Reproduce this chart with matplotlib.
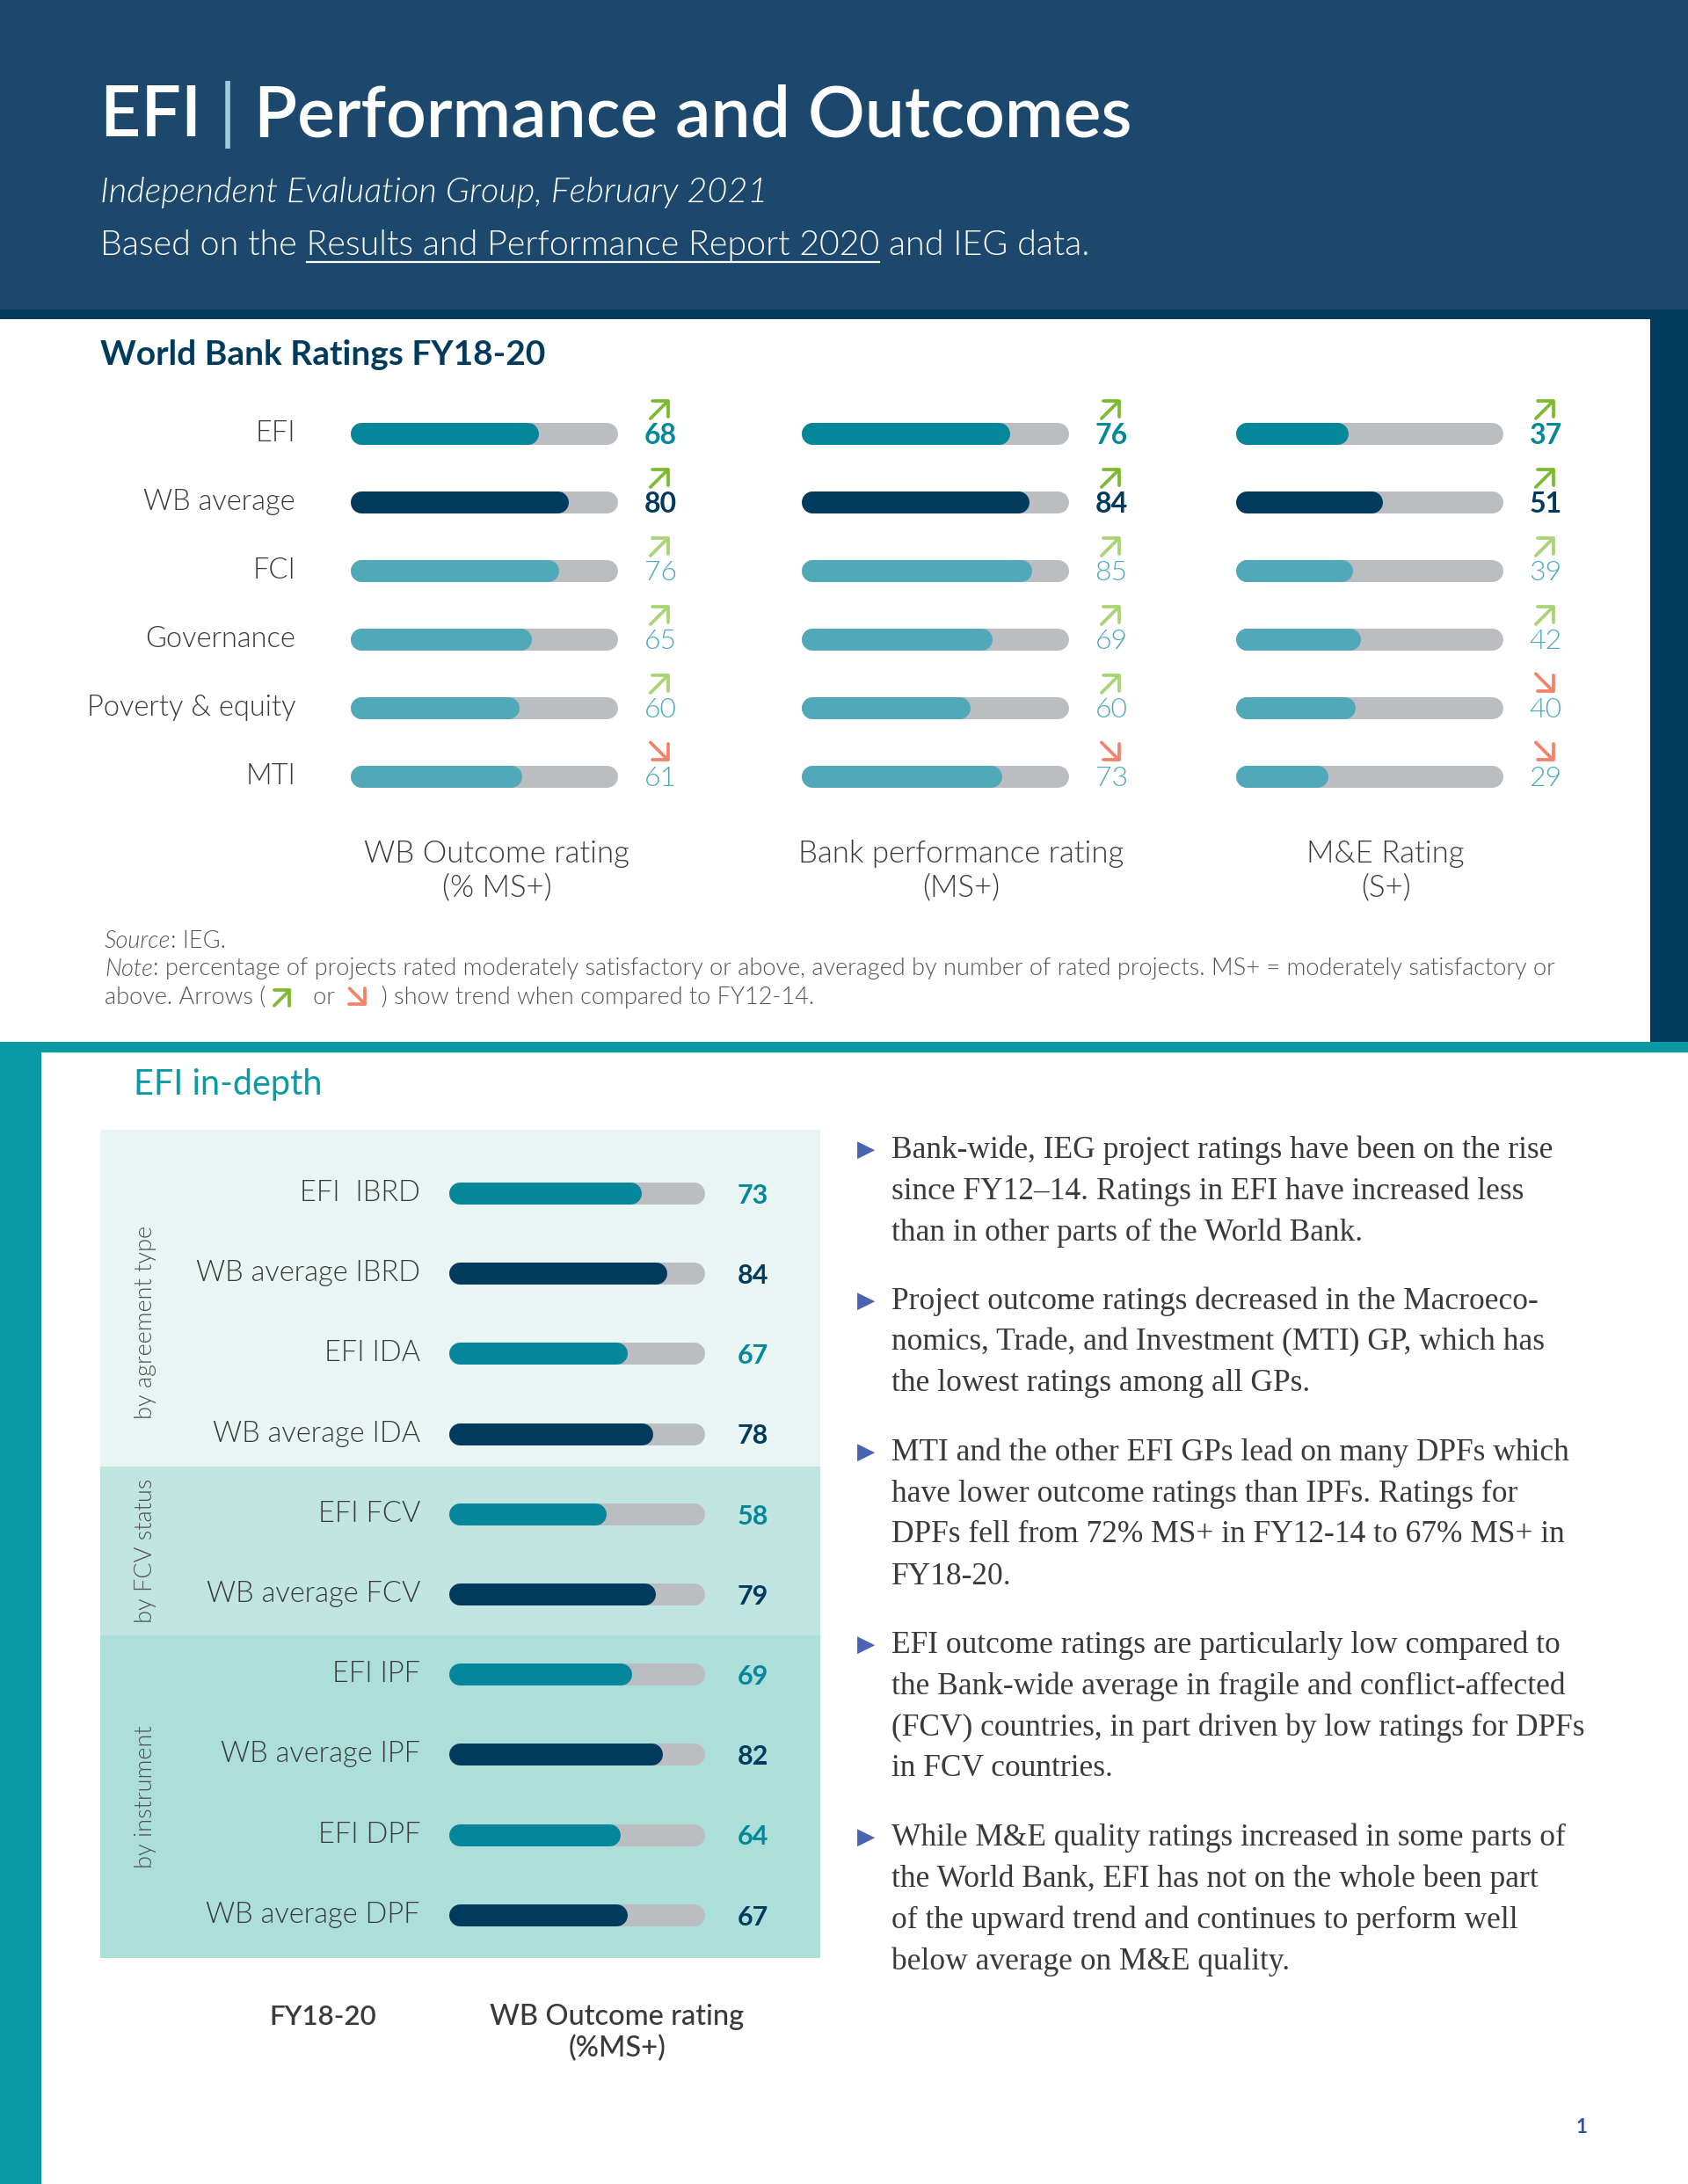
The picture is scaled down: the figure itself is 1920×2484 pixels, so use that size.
import matplotlib.pyplot as plt
from matplotlib.patches import Rectangle
from matplotlib.transforms import offset_copy

# data
top_rows = ["EFI", "WB average", "FCI", "Governance", "Poverty & equity", "MTI"]
outcome = [68, 80, 76, 65, 60, 61]
bank_perf = [76, 84, 85, 69, 60, 73]
me_rating = [37, 51, 39, 42, 40, 29]
outcome_trend = ["up", "up", "up", "up", "up", "down"]
bank_trend = ["up", "up", "up", "up", "up", "down"]
me_trend = ["up", "up", "up", "up", "down", "down"]
panel_titles = ["WB Outcome rating\n(% MS+)", "Bank performance rating\n(MS+)", "M&E Rating\n(S+)"]

depth_rows = ["EFI  IBRD", "WB average IBRD", "EFI IDA", "WB average IDA", "EFI FCV",
              "WB average FCV", "EFI IPF", "WB average IPF", "EFI DPF", "WB average DPF"]
depth_values = [73, 84, 67, 78, 58, 79, 69, 82, 64, 67]
groups = ["by agreement type", "by FCV status", "by instrument"]
group_sizes = [4, 2, 4]

bullets = [
    ["Bank-wide, IEG project ratings have been on the rise",
     "since FY12\u201314. Ratings in EFI have increased less",
     "than in other parts of the World Bank."],
    ["Project outcome ratings decreased in the Macroeco-",
     "nomics, Trade, and Investment (MTI) GP, which has",
     "the lowest ratings among all GPs."],
    ["MTI and the other EFI GPs lead on many DPFs which",
     "have lower outcome ratings than IPFs. Ratings for",
     "DPFs fell from 72% MS+ in FY12-14 to 67% MS+ in",
     "FY18-20."],
    ["EFI outcome ratings are particularly low compared to",
     "the Bank-wide average in fragile and conflict-affected",
     "(FCV) countries, in part driven by low ratings for DPFs",
     "in FCV countries."],
    ["While M&E quality ratings increased in some parts of",
     "the World Bank, EFI has not on the whole been part",
     "of the upward trend and continues to perform well",
     "below average on M&E quality."],
]

# colours
NAVY = "#003a5d"
HEADER = "#1b486c"
EFI_C = "#04879a"
SECTOR_C = "#4fa9b9"
TRACK = "#bcbdc1"
TEAL = "#0a9aa4"
UP_DARK = "#7dbb2e"
UP_LIGHT = "#a8d475"
DOWN = "#f2826a"
TXT = "#3a3a3a"
SANS = "Lato"
LIGHT = 300

W, H = 1920, 2484
fig = plt.figure(figsize=(W / 100, H / 100), dpi=100)
fig.patch.set_facecolor("white")
bg = fig.add_axes([0, 0, 1, 1])
bg.set_xlim(0, W)
bg.set_ylim(H, 0)
bg.axis("off")
renderer = fig.canvas.get_renderer()


def box(x0, y0, x1, y1, color):
    bg.add_patch(Rectangle((x0, y0), x1 - x0, y1 - y0, color=color, lw=0, zorder=0))


def text_w(s, **kw):
    # advance width, trailing spaces included
    a = bg.text(0, 0, s + "x", **kw)
    b = bg.text(0, 0, "x", **kw)
    w = a.get_window_extent(renderer).width - b.get_window_extent(renderer).width
    a.remove()
    b.remove()
    return w


def trend_arrow(axis, xy, trans, dx, dy, up, color, size=15.5):
    # open-headed diagonal arrow centred at xy + (dx, dy) points
    h = size / 2
    tip = (dx + h, dy + h) if up else (dx + h, dy - h)
    tail = (-2 * h, -2 * h) if up else (-2 * h, 2 * h)
    axis.annotate("", xy=xy, xycoords=offset_copy(trans, fig=fig, x=tip[0], y=tip[1], units="points"),
                  xytext=tail, textcoords="offset points",
                  arrowprops=dict(arrowstyle="->,head_length=0.45,head_width=0.45", lw=2.7,
                                  color=color, shrinkA=0, shrinkB=0, mutation_scale=20))


def runs(x, y, parts, **kw):
    for s, st in parts:
        if s in ("UP", "DOWN"):
            trend_arrow(bg, (x + 12, y), bg.transData, 0, 0, s == "UP", st["color"], size=14)
            x += 24
            continue
        opts = {**kw, **st}
        bg.text(x, y, s, **opts)
        x += text_w(s, **opts)
    return x


def px_rect(left, top, width, height):
    return [left / W, 1 - (top + height) / H, width / W, height / H]


# page decoration
box(0, 0, W, 356, HEADER)
box(0, 352, 1877, 363, NAVY)
box(1877, 352, W, 1186, NAVY)
box(0, 1185, W, 1197, TEAL)
box(0, 1185, 47, H, TEAL)

# header texts
title_kw = dict(fontsize=58, fontfamily=SANS, fontweight="semibold", color="white", va="baseline")
runs(114, 155, [("EFI ", {}), ("|", {"color": "#9fcbd8", "fontweight": "normal"}),
                (" Performance and Outcomes", {})], **title_kw)

bg.text(114, 230, "Independent Evaluation Group, February 2021", fontsize=28.5, fontfamily=SANS,
        fontweight=LIGHT, fontstyle="italic", color="white", va="baseline")
sub_kw = dict(fontsize=28.4, fontfamily=SANS, fontweight=LIGHT, color="white", va="baseline")
link = "Results and Performance Report 2020"
bg.text(114, 290, "Based on the " + link + " and IEG data.", **sub_kw)
u0 = 114 + text_w("Based on the ", **sub_kw)
u1 = u0 + text_w(link, **sub_kw)
bg.plot([u0, u1], [298, 298], color="white", lw=1.6)

# section 1
bg.text(114, 415, "World Bank Ratings FY18-20", fontsize=28, fontfamily=SANS, fontweight="bold",
        color=NAVY, va="baseline")

row_colors = [EFI_C, NAVY] + [SECTOR_C] * 4
num_weight = ["bold", "bold"] + [LIGHT] * 4
up_colors = [UP_DARK, UP_DARK] + [UP_LIGHT] * 4

R = 12.5        # half bar thickness, px
LW = 2 * R * 0.72
row_top, row_step = 493, 78
track_lefts = [398, 911, 1405]
track_w = 304
for k, (vals, trend) in enumerate(zip([outcome, bank_perf, me_rating],
                                      [outcome_trend, bank_trend, me_trend])):
    ax = fig.add_axes(px_rect(track_lefts[k] + R, row_top - row_step / 2,
                              track_w - 2 * R, row_step * len(top_rows)))
    ax.set_xlim(0, 100)
    ax.set_ylim(len(top_rows) - 0.5, -0.5)
    ax.axis("off")
    ys = range(len(vals))
    ax.hlines(ys, 0, 100, color=TRACK, lw=LW, capstyle="round", clip_on=False)
    ax.hlines(ys, 0, vals, color=row_colors, lw=LW, capstyle="round", clip_on=False)
    for i, v in enumerate(vals):
        ax.annotate(str(v), xy=(100, i), xytext=(31, -2), textcoords="offset points",
                    ha="left", va="center", fontsize=23, fontfamily=SANS,
                    fontweight=num_weight[i], color=row_colors[i])
        up = trend[i] == "up"
        trend_arrow(ax, (100, i), ax.transData, 44, 20, up, up_colors[i] if up else DOWN)
    if k == 0:
        for i, lab in enumerate(top_rows):
            ax.annotate(lab, xy=(0, i), xytext=(-53.6, 0),
                        textcoords="offset points", ha="right", va="center",
                        fontsize=23.5, fontfamily=SANS, fontweight=LIGHT, color=TXT)

for cx, t in zip([565, 1093, 1576], panel_titles):
    for j, line in enumerate(t.split("\n")):
        bg.text(cx, 971 + 38 * j, line, ha="center", va="center", fontsize=25,
                fontfamily=SANS, fontweight=LIGHT, color=TXT)

note_kw = dict(fontsize=19.5, fontfamily=SANS, fontweight=LIGHT, color="#555555", va="center")
runs(119, 1071, [("Source", {"fontstyle": "italic"}), (": IEG.", {})], **note_kw)
runs(119, 1102, [("Note", {"fontstyle": "italic"}),
                 (": percentage of projects rated moderately satisfactory or above, averaged by number "
                  "of rated projects. MS+ = moderately satisfactory or", {})], **note_kw)
runs(119, 1134, [("above. Arrows ( ", {}), ("UP", {"color": UP_DARK}), ("   or  ", {}),
                 ("DOWN", {"color": DOWN}), ("  ) show trend when compared to FY12-14.", {})],
     **note_kw)

# section 2
bg.text(152, 1234, "EFI in-depth", fontsize=28.5, fontfamily=SANS, color=TEAL, va="center")

band_colors = ["#e8f5f3", "#c1e5e1", "#acdfd9"]
band_edges = [1285, 1668, 1860, 2227]
for g in range(3):
    box(114, band_edges[g], 933, band_edges[g + 1], band_colors[g])
    bg.text(166, (band_edges[g] + band_edges[g + 1]) / 2 + (27 if g == 0 else 0), groups[g],
            rotation=90, ha="center", va="center", fontsize=19.5, fontfamily=SANS,
            fontweight=LIGHT, color="#505050")

d_top, d_step = 1357, 91.2
d_left, d_w = 510, 291
dcolors = [EFI_C, NAVY] * 5
ax2 = fig.add_axes(px_rect(d_left + R, d_top - d_step / 2, d_w - 2 * R, d_step * len(depth_rows)))
ax2.set_xlim(0, 100)
ax2.set_ylim(len(depth_rows) - 0.5, -0.5)
ax2.axis("off")
ys = range(len(depth_values))
ax2.hlines(ys, 0, 100, color=TRACK, lw=LW, capstyle="round", clip_on=False)
ax2.hlines(ys, 0, depth_values, color=dcolors, lw=LW, capstyle="round", clip_on=False)
for i, (lab, v) in enumerate(zip(depth_rows, depth_values)):
    ax2.annotate(str(v), xy=(100, i), xytext=(36, -2), textcoords="offset points",
                 ha="left", va="center", fontsize=22, fontfamily=SANS, fontweight="bold",
                 color=dcolors[i])
    ax2.annotate(lab, xy=(0, i), xytext=(-(R + 32) * 0.72, 0), textcoords="offset points",
                 ha="right", va="center", fontsize=23.5, fontfamily=SANS, fontweight=LIGHT,
                 color=TXT)

bg.text(367, 2294, "FY18-20", ha="center", va="center", fontsize=22.5, fontfamily=SANS,
        fontweight="semibold", color=TXT)
bg.text(702, 2294, "WB Outcome rating", ha="center", va="center", fontsize=23.5, fontfamily=SANS,
        fontweight="medium", color=TXT)
bg.text(702, 2330, "(%MS+)", ha="center", va="center", fontsize=23.5, fontfamily=SANS,
        fontweight="medium", color=TXT)

# bullet text
y = 1308
for lines in bullets:
    bg.text(975, y, "\u25B6", ha="left", va="center", fontsize=19, fontfamily="DejaVu Sans",
            color="#4b63b3")
    for j, line in enumerate(lines):
        bg.text(1014, y + 47 * j, line, ha="left", va="center", fontsize=25.5,
                fontfamily="Liberation Serif", color=TXT)
    y += 47 * (len(lines) - 1) + 78

bg.text(1799, 2420, "1", ha="center", va="center", fontsize=16, fontfamily=SANS,
        fontweight="bold", color="#3550a0")

fig.savefig("out.png", dpi=100)
